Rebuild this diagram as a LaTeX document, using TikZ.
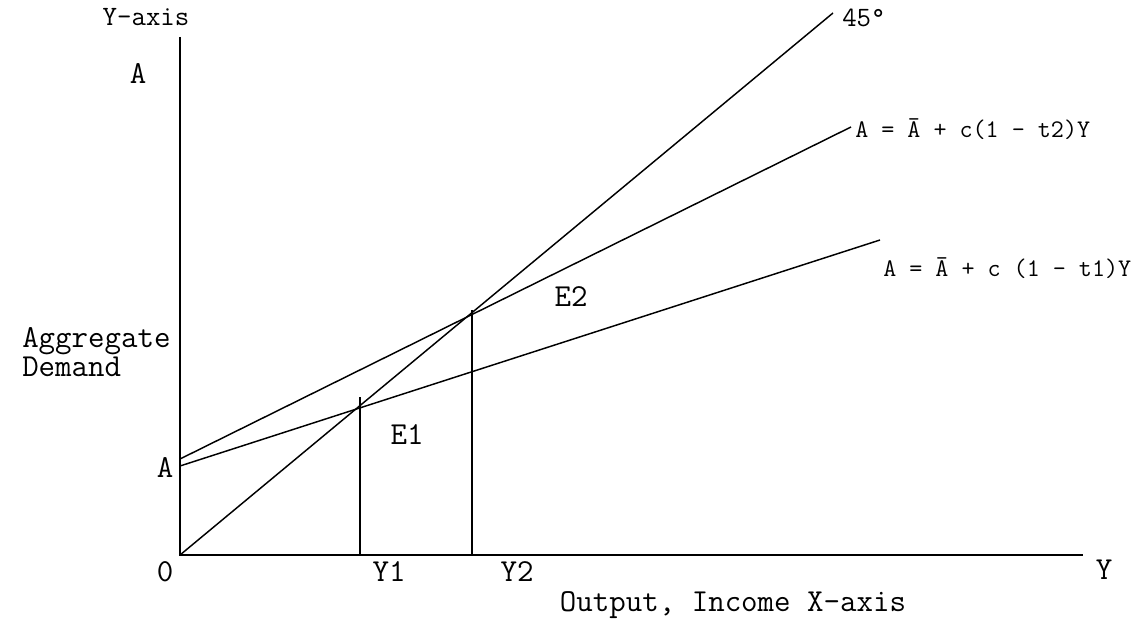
\documentclass[tikz,border=0pt]{standalone}
\usepackage{fontspec}
\begin{document}
\begin{tikzpicture}[x=0.75pt,y=-0.75pt,
  lbl/.style={font=\ttfamily\fontsize{24}{28}\selectfont, inner sep=0pt, anchor=base},
  lblw/.style={font=\ttfamily\fontsize{24}{28}\selectfont, inner sep=0pt, anchor=base west},
  eqlbl/.style={font=\ttfamily\fontsize{19}{22}\selectfont, inner sep=0pt, anchor=base west},
  sml/.style={font=\ttfamily\fontsize{21}{25}\selectfont, inner sep=0pt, anchor=base},
  smlw/.style={font=\ttfamily\fontsize{21}{25}\selectfont, inner sep=0pt, anchor=base west},
  axisline/.style={line width=1.5pt},
  fnline/.style={line width=1.1pt},
  dropline/.style={line width=0.9pt}]
\useasboundingbox (0,0) rectangle (1147,623);

% coordinates
\coordinate (O) at (180,555);
\coordinate (ytop) at (180,37);
\coordinate (xend) at (1083,555);
\coordinate (fe) at (833,13);
\coordinate (t2s) at (180,459);
\coordinate (t2e) at (851,127);
\coordinate (t1s) at (180,466);
\coordinate (t1e) at (880,240);
\coordinate (y1top) at (360,397);
\coordinate (y1bot) at (360,555);
\coordinate (y2top) at (472,310);
\coordinate (y2bot) at (472,555);

% axes
\draw[axisline] (ytop) -- (O) -- (xend);
% lines
\draw[fnline] (O) -- (fe);
\draw[fnline] (t2s) -- (t2e);
\draw[fnline] (t1s) -- (t1e);
\draw[dropline] (y1bot) -- (y1top);
\draw[dropline] (y2bot) -- (y2top);

% labels
\node[sml] (yaxis) at (146,26) {Y-axis};
\node[lbl] (atop) at (138,84) {A};
\node[lblw] (agg) at (22,348) {Aggregate};
\node[lblw] (dem) at (22,377) {Demand};
\node[lbl] (abot) at (165,478) {A};
\node[lbl] (zero) at (165,582) {0};
\node[lbl] (ya) at (389,582) {Y1};
\node[lbl] (yb) at (517,582) {Y2};
\node[lbl] (yy) at (1104,580) {Y};
\node[lbl] (e1) at (407,445) {E1};
\node[lbl] (e2) at (571,307) {E2};
\node[lbl] (out) at (733,612) {Output, Income X-axis};
\node[smlw] (deg) at (842,27) {45°};
\node[eqlbl] (eqb) at (855,138) {A = Ā + c(1 – t2)Y};
\node[eqlbl] (eqa) at (883,277) {A = Ā + c (1 – t1)Y};
\end{tikzpicture}
\end{document}
